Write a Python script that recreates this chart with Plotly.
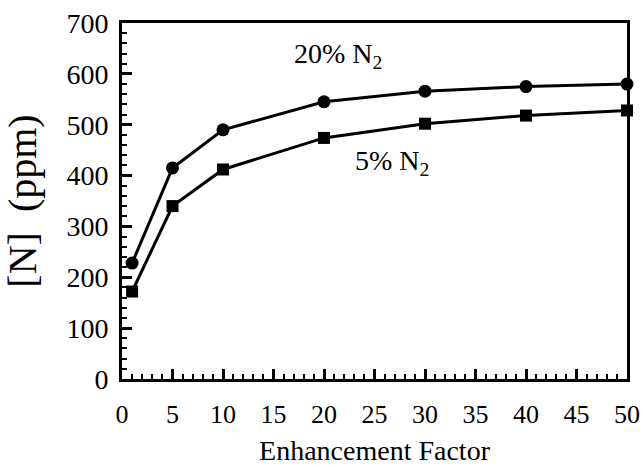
import plotly.graph_objects as go

enhancement = [1, 5, 10, 20, 30, 40, 50]
n_20pct = [228, 415, 490, 545, 566, 575, 580]
n_5pct = [172, 340, 412, 474, 502, 518, 528]
x_ticks = [0, 5, 10, 15, 20, 25, 30, 35, 40, 45, 50]
y_ticks = [0, 100, 200, 300, 400, 500, 600, 700]

FONT = "Liberation Serif"

fig = go.Figure()
fig.add_trace(go.Scatter(x=enhancement, y=n_20pct, mode="lines+markers",
                         line=dict(color="black", width=3),
                         marker=dict(symbol="circle", size=13, color="black"),
                         showlegend=False, cliponaxis=False))
fig.add_trace(go.Scatter(x=enhancement, y=n_5pct, mode="lines+markers",
                         line=dict(color="black", width=3),
                         marker=dict(symbol="square", size=12, color="black"),
                         showlegend=False, cliponaxis=False))

fig.add_annotation(x=21.4, y=636, text="20% N<sub>2</sub>", showarrow=False,
                   font=dict(family=FONT, size=28, color="black"))
fig.add_annotation(x=26.7, y=426, text="5% N<sub>2</sub>", showarrow=False,
                   font=dict(family=FONT, size=28, color="black"))

axis_common = dict(showgrid=False, zeroline=False, showline=True, linecolor="black",
                   linewidth=3, mirror=True, ticks="inside", tickcolor="black",
                   tickwidth=3, ticklen=10, automargin=False)

fig.update_xaxes(range=[0, 50], tickvals=x_ticks,
                 tickfont=dict(family=FONT, size=26, color="black"),
                 ticklabelstandoff=10,
                 title=dict(text="Enhancement Factor", font=dict(family=FONT, size=28, color="black"), standoff=13),
                 minor=dict(dtick=1, ticks="inside", ticklen=5, tickwidth=2, tickcolor="black"),
                 **axis_common)
fig.update_yaxes(range=[0, 700], tickvals=y_ticks,
                 tickfont=dict(family=FONT, size=28, color="black"),
                 ticklabelstandoff=5,
                 title=dict(text="[N]\u00a0\u00a0(ppm)", font=dict(family=FONT, size=40, color="black"), standoff=18),
                 minor=dict(dtick=20, ticks="inside", ticklen=5, tickwidth=2, tickcolor="black"),
                 **axis_common)

fig.update_layout(width=643, height=467, margin=dict(l=122, r=16, t=23, b=88),
                  plot_bgcolor="white", paper_bgcolor="white")

fig.write_html("out.html")
